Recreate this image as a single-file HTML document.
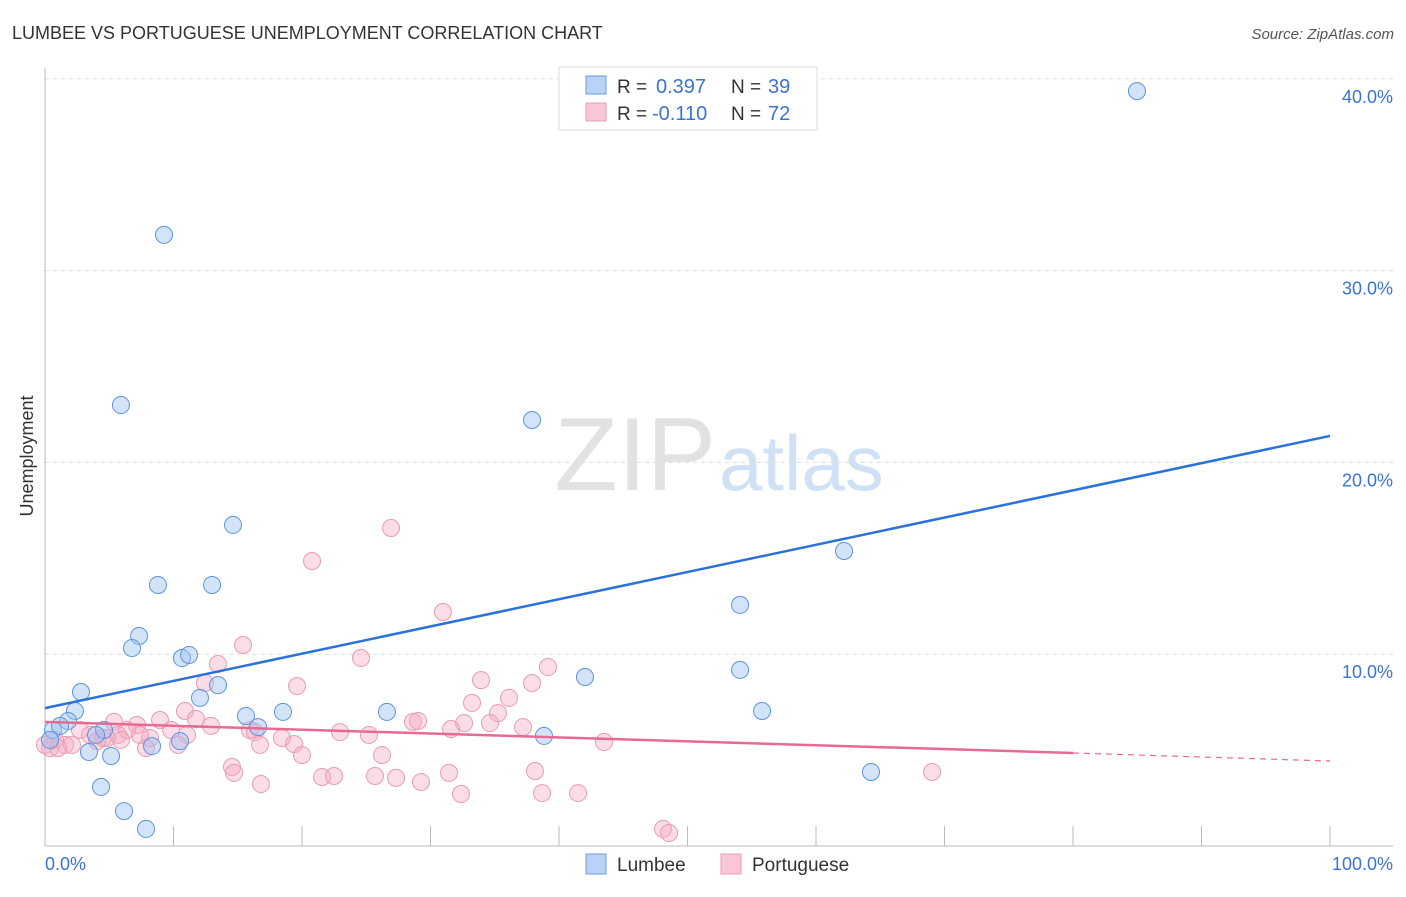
<!DOCTYPE html>
<html><head><meta charset="utf-8"><style>
body{margin:0;background:#fff;font-family:"Liberation Sans",sans-serif;}
svg text{font-family:"Liberation Sans",sans-serif;}
</style></head><body>
<svg id="chart" width="1406" height="892" viewBox="0 0 1406 892" xmlns="http://www.w3.org/2000/svg">
<text x="12" y="39" font-size="18" fill="#333">LUMBEE VS PORTUGUESE UNEMPLOYMENT CORRELATION CHART</text>
<text x="1394" y="39" font-size="15" fill="#555" text-anchor="end" font-style="italic">Source: ZipAtlas.com</text>
<text x="716" y="490" font-size="104" text-anchor="end" fill="#e2e2e2" font-family="Liberation Serif">ZIP</text>
<text x="719" y="490" font-size="78" fill="#d0e0f5">atlas</text>
<g id="grid"></g>
<line x1="45" y1="68" x2="45" y2="846" stroke="#bbb"/>
<line x1="45" y1="846" x2="1393" y2="846" stroke="#bbb"/>
<text transform="translate(33,456) rotate(-90)" font-size="18" fill="#333" text-anchor="middle">Unemployment</text>
<text x="45" y="870" font-size="18" fill="#3a73d6">0.0%</text>
<text x="1393" y="870" font-size="18" fill="#3a73d6" text-anchor="end">100.0%</text>
<g id="points"></g>
<g id="lines"></g>
<g>
<rect x="559" y="67" width="258" height="63" fill="#fff" stroke="#ddd"/>
<rect x="586" y="76" width="20" height="18" fill="#b8d3f5" stroke="#6a9be0"/>
<rect x="586" y="103" width="20" height="18" fill="#f9c6d6" stroke="#eb9ab5"/>
<text x="617" y="93" font-size="19" fill="#333">R = </text><text x="656" y="93" font-size="20" fill="#3a73d6">0.397</text>
<text x="731" y="93" font-size="19" fill="#333">N = </text><text x="768" y="93" font-size="20" fill="#3a73d6">39</text>
<text x="617" y="120" font-size="19" fill="#333">R = </text><text x="652" y="120" font-size="20" fill="#3a73d6">-0.110</text>
<text x="731" y="120" font-size="19" fill="#333">N = </text><text x="768" y="120" font-size="20" fill="#3a73d6">72</text>
</g>
<g>
<rect x="586" y="854" width="20" height="20" fill="#b8d3f5" stroke="#6a9be0"/>
<text x="617" y="871" font-size="19" fill="#333">Lumbee</text>
<rect x="721" y="854" width="20" height="20" fill="#f9c6d6" stroke="#eb9ab5"/>
<text x="752" y="871" font-size="19" fill="#333">Portuguese</text>
</g>
</svg>
<script>
const yTicks=[10,20,30,40];
const yTickLabels=["10.0%","20.0%","30.0%","40.0%"];
const xTicks=[10,20,30,40,50,60,70,80,90,100];
const lumbeeX=[84.98,9.26,5.91,37.9,14.63,62.18,8.79,13.0,54.09,7.32,6.77,10.66,11.21,54.09,2.80,42.02,13.46,12.06,55.8,18.52,26.61,15.64,2.33,1.79,16.58,0.62,1.17,4.59,3.97,38.83,8.33,10.51,3.42,5.14,0.39,64.28,4.36,6.15,7.86];
const lumbeeY=[39.36,31.86,22.99,22.21,16.74,15.38,13.61,13.61,12.57,10.95,10.32,9.80,9.96,9.18,8.03,8.81,8.39,7.72,7.04,6.99,6.99,6.78,7.04,6.52,6.20,6.05,6.26,6.05,5.79,5.74,5.21,5.47,4.90,4.69,5.53,3.86,3.08,1.82,0.89];
const portX=[26.93,20.78,30.97,15.41,24.59,39.14,13.46,19.61,33.93,37.90,12.45,36.11,33.23,10.89,35.25,8.95,11.75,5.37,7.16,12.92,15.95,9.81,28.64,29.03,32.61,34.63,31.60,37.20,22.96,25.21,2.72,3.50,4.51,6.38,0.78,1.56,2.10,0.39,5.68,8.17,11.05,16.34,18.44,19.38,16.73,10.35,7.86,20.0,26.23,43.5,5.91,14.55,14.71,21.56,22.49,25.68,27.32,31.44,38.13,69.03,16.81,29.26,32.37,38.68,41.48,48.09,48.56,4.82,4.05,7.39,1.01,0];
const portY=[16.58,14.86,12.20,10.48,9.80,9.33,9.49,8.34,8.65,8.50,8.50,7.72,7.46,7.04,6.93,6.57,6.62,6.47,6.31,6.26,6.05,6.05,6.47,6.52,6.41,6.41,6.10,6.20,5.94,5.79,6.05,5.79,5.63,6.05,5.53,5.27,5.27,5.11,5.79,5.63,5.79,5.94,5.63,5.32,5.27,5.27,5.11,4.74,4.74,5.42,5.53,4.12,3.81,3.60,3.65,3.65,3.55,3.81,3.91,3.86,3.23,3.34,2.71,2.76,2.76,0.89,0.68,5.63,5.47,5.79,5.11,5.27];
const lumbeeTrend=[7.19,21.38];
const portTrend=[6.47,4.85,4.43];
const portSolidEnd=80;
const NS="http://www.w3.org/2000/svg";
const sx=v=>45+v*12.85;
const sy=v=>846-v*19.18;
function mk(tag,attrs,parent){const e=document.createElementNS(NS,tag);for(const k in attrs)e.setAttribute(k,attrs[k]);parent.appendChild(e);return e;}
const grid=document.getElementById('grid');
yTicks.forEach((t,i)=>{
 const l=mk('line',{x1:45,x2:1393,y1:sy(t),y2:sy(t),stroke:'#ddd','stroke-dasharray':'4,4'},grid);
 
 
 const tx=mk('text',{x:1393,y:sy(t)+24,'font-size':18,fill:'#3a73d6','text-anchor':'end'},grid);
 tx.textContent=yTickLabels[i];
 
 
});
xTicks.forEach(t=>{
 const l=mk('line',{x1:sx(t),x2:sx(t),y1:826,y2:846,stroke:'#bbb'},grid);
 
 
});
const pts=document.getElementById('points');
portX.forEach((x,i)=>{
 const c=mk('circle',{cx:sx(x),cy:sy(portY[i]),r:8.5,fill:'rgba(246,170,196,0.4)',stroke:'#eb9ab5','stroke-width':1},pts);
 
 
});
lumbeeX.forEach((x,i)=>{
 const c=mk('circle',{cx:sx(x),cy:sy(lumbeeY[i]),r:8.5,fill:'rgba(160,196,240,0.45)',stroke:'#5b93e0','stroke-width':1},pts);
 
 
});
const lines=document.getElementById('lines');
const lb=mk('line',{x1:sx(0),y1:sy(lumbeeTrend[0]),x2:sx(100),y2:sy(lumbeeTrend[1]),stroke:'#2a72d9','stroke-width':2.5},lines);


const lp=mk('line',{x1:sx(0),y1:sy(portTrend[0]),x2:sx(portSolidEnd),y2:sy(portTrend[1]),stroke:'#e86a93','stroke-width':2.5},lines);


const ld=mk('line',{x1:sx(portSolidEnd),y1:sy(portTrend[1]),x2:sx(100),y2:sy(portTrend[2]),stroke:'#e86a93','stroke-width':1.2,'stroke-dasharray':'6,5'},lines);


</script>
</body></html>
